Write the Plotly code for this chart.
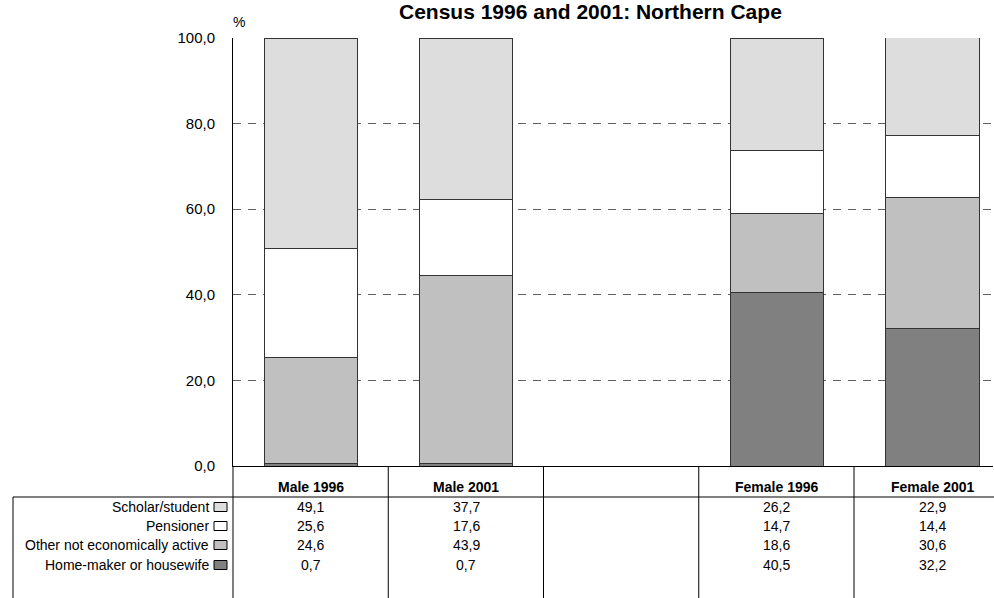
import plotly.graph_objects as go

# Census 1996 and 2001: Northern Cape - not economically active, by reason (%)
categories = ["Male 1996", "Male 2001", " ", "Female 1996", "Female 2001"]

scholar = [49.1, 37.7, None, 26.2, 22.9]
pensioner = [25.6, 17.6, None, 14.7, 14.4]
other_inactive = [24.6, 43.9, None, 18.6, 30.6]
homemaker = [0.7, 0.7, None, 40.5, 32.2]

series_names = ["Scholar/student", "Pensioner", "Other not economically active", "Home-maker or housewife"]
series_values = [scholar, pensioner, other_inactive, homemaker]
series_colors = ["#DDDDDD", "#FFFFFF", "#C0C0C0", "#808080"]

y_ticks = [0, 20, 40, 60, 80, 100]
y_ticktext = ["0,0", "20,0", "40,0", "60,0", "80,0", "100,0"]

FONT = "Liberation Sans, Arial, sans-serif"

W, H = 994, 598
L, R, T, B = 233, 1, 38, 598 - 466
PW = W - L - R
PH = H - T - B


def fx(sx):
    # pixel x -> paper x
    return (sx - L) / PW


def fy(sy):
    # pixel y -> paper y
    return (H - B - sy) / PH


def comma(v):
    return "" if v is None else f"{v:.1f}".replace(".", ",")


fig = go.Figure()

# stack from bottom: home-maker, other, pensioner, scholar
for name, vals, col in reversed(list(zip(series_names, series_values, series_colors))):
    fig.add_trace(go.Bar(
        x=categories, y=vals, name=name,
        marker=dict(color=col, line=dict(color="#333333", width=1)),
        width=0.6,
        hovertemplate="%{x}<br>" + name + ": %{y:.1f}%<extra></extra>",
    ))

shapes = []
annotations = []

# table grid
col_edges = [233 + i * 155.25 for i in range(5)]
for xe in col_edges:
    shapes.append(dict(type="line", xref="paper", yref="paper",
                       x0=fx(xe), x1=fx(xe), y0=fy(466), y1=fy(610),
                       line=dict(color="#000000", width=1)))
shapes.append(dict(type="line", xref="paper", yref="paper",
                   x0=fx(13), x1=fx(13), y0=fy(497), y1=fy(610),
                   line=dict(color="#000000", width=1)))
shapes.append(dict(type="line", xref="paper", yref="paper",
                   x0=fx(13), x1=fx(1000), y0=fy(497), y1=fy(497),
                   line=dict(color="#000000", width=1)))

# header row
for c in categories:
    annotations.append(dict(x=c, xref="x", y=fy(487), yref="paper",
                            text="<b>" + c.strip() + "</b>" if c.strip() else "",
                            showarrow=False, font=dict(size=14, family=FONT, color="#000"),
                            yanchor="middle"))

row_y = [507, 526, 545, 565]
for ry, name, vals, col in zip(row_y, series_names, series_values, series_colors):
    annotations.append(dict(x=fx(211), xref="paper", y=fy(ry), yref="paper",
                            text=name, showarrow=False, xanchor="right", yanchor="middle",
                            font=dict(size=14, family=FONT, color="#000")))
    shapes.append(dict(type="rect", xref="paper", yref="paper",
                       x0=fx(214), x1=fx(227), y0=fy(ry + 4.5), y1=fy(ry - 4.5),
                       fillcolor=col, line=dict(color="#000000", width=1)))
    for c, v in zip(categories, vals):
        annotations.append(dict(x=c, xref="x", y=fy(ry), yref="paper",
                                text=comma(v), showarrow=False, yanchor="middle",
                                font=dict(size=14, family=FONT, color="#000")))

# title and unit
annotations.append(dict(x=fx(590), xref="paper", y=fy(12), yref="paper",
                        text="<b>Census 1996 and 2001: Northern Cape</b>", showarrow=False,
                        xanchor="center", yanchor="middle",
                        font=dict(size=21, family=FONT, color="#000")))
annotations.append(dict(x=fx(239), xref="paper", y=fy(22), yref="paper",
                        text="%", showarrow=False, xanchor="center", yanchor="middle",
                        font=dict(size=14, family=FONT, color="#000")))

fig.update_layout(
    barmode="stack",
    width=W, height=H,
    margin=dict(l=L, r=R, t=T, b=B, pad=0),
    plot_bgcolor="#FFFFFF", paper_bgcolor="#FFFFFF",
    showlegend=False,
    shapes=shapes,
    annotations=annotations,
    font=dict(family=FONT, size=14, color="#000"),
)

fig.update_xaxes(
    categoryorder="array", categoryarray=categories,
    range=[-0.5, 4.39],
    showticklabels=False, ticks="",
    showline=True, linecolor="#000000", linewidth=1,
    showgrid=False, zeroline=False,
)

fig.update_yaxes(
    range=[0, 100],
    tickvals=y_ticks, ticktext=y_ticktext,
    ticks="outside", ticklen=14, tickcolor="rgba(0,0,0,0)",
    tickfont=dict(size=15, family=FONT, color="#000"),
    showline=True, linecolor="#000000", linewidth=1,
    showgrid=True, gridcolor="#606060", gridwidth=1, griddash="8px,7px",
    zeroline=False,
)

# drop the default 8px body margin so the figure sits at the page corner
fig.write_html("out.html", config={"displayModeBar": False},
               post_script="document.body.style.margin = '0';")
